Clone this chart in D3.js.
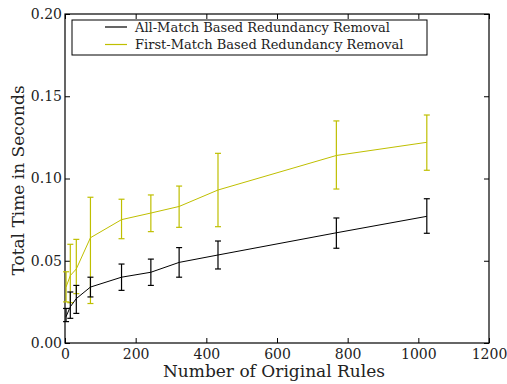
<!DOCTYPE html>
<html>
<head>
    <script src='https://d3js.org/d3.v7.min.js'></script>
    <style>
        html, body { margin: 0; padding: 0; background: white; }
        text { font-family: 'DejaVu Serif', serif; fill: #222; }
    </style>
</head>
<body>
<div id="vis"></div>
<script>

// data
var rules = [3, 15, 32, 72, 160, 243, 323, 433, 768, 1024];

var allMean = [0.016, 0.022, 0.027, 0.034, 0.040, 0.043, 0.049, 0.0535, 0.067, 0.077];
var allLo   = [0.013, 0.015, 0.018, 0.028, 0.032, 0.035, 0.040, 0.045, 0.0576, 0.0667];
var allHi   = [0.021, 0.031, 0.035, 0.040, 0.048, 0.051, 0.058, 0.062, 0.076, 0.0877];

var firstMean = [0.034, 0.041, 0.045, 0.064, 0.075, 0.079, 0.083, 0.093, 0.114, 0.122];
var firstLo   = [0.025, 0.0245, 0.030, 0.024, 0.0634, 0.0677, 0.0703, 0.0707, 0.0936, 0.105];
var firstHi   = [0.0433, 0.060, 0.063, 0.0886, 0.0874, 0.090, 0.0954, 0.1153, 0.135, 0.1386];

var xTicks = [0, 200, 400, 600, 800, 1000, 1200];
var yTicks = [0.00, 0.05, 0.10, 0.15, 0.20];

var seriesNames = ['All-Match Based Redundancy Removal', 'First-Match Based Redundancy Removal'];
var seriesColors = ['#000000', '#bfbf00'];

var width = 507, height = 384;
var margin = {top: 14, bottom: 41, left: 65, right: 18};
var w = width - margin.left - margin.right;
var h = height - margin.top - margin.bottom;

var svg = d3.select('#vis').append('svg')
    .attr('width', width)
    .attr('height', height);
var g = svg.append('g')
    .attr('transform', 'translate(' + margin.left + ',' + margin.top + ')');

var x = d3.scaleLinear().domain([0, 1200]).range([0, w]);
var y = d3.scaleLinear().domain([0, 0.20]).range([h, 0]);

// axes, ticks pointing inward on all four sides
var xAxis = g.append('g').attr('transform', 'translate(0,' + h + ')')
    .call(d3.axisBottom(x).tickValues(xTicks).tickSizeInner(-5).tickSizeOuter(0).tickPadding(6.5).tickFormat(d3.format('d')));
var xTop = g.append('g')
    .call(d3.axisTop(x).tickValues(xTicks).tickSizeInner(-5).tickSizeOuter(0).tickFormat(''));
var yAxis = g.append('g')
    .call(d3.axisLeft(y).tickValues(yTicks).tickSizeInner(-5).tickSizeOuter(0).tickPadding(3).tickFormat(d3.format('.2f')));
var yRight = g.append('g').attr('transform', 'translate(' + w + ',0)')
    .call(d3.axisRight(y).tickValues(yTicks).tickSizeInner(-5).tickSizeOuter(0).tickFormat(''));

[xAxis, xTop, yAxis, yRight].forEach(function(a) {
    a.select('.domain').remove();
    a.selectAll('line').attr('stroke', '#000');
    a.selectAll('text').style('font-family', "'DejaVu Serif', serif").style('font-size', '14px').attr('fill', '#222');
});

g.append('rect')
    .attr('x', 0).attr('y', 0).attr('width', w).attr('height', h)
    .attr('fill', 'none').attr('stroke', '#000').attr('stroke-width', 1.2);

function drawSeries(mean, lo, hi, color) {
    var pts = rules.map(function(r, i) { return {x: r, m: mean[i], lo: lo[i], hi: hi[i]}; });
    var line = d3.line().x(function(d) { return x(d.x); }).y(function(d) { return y(d.m); });
    g.append('path').datum(pts)
        .attr('d', line)
        .attr('fill', 'none')
        .attr('stroke', color)
        .attr('stroke-width', 1);
    var bars = g.append('g').selectAll('g').data(pts).enter().append('g');
    bars.append('line')
        .attr('x1', function(d) { return x(d.x); }).attr('x2', function(d) { return x(d.x); })
        .attr('y1', function(d) { return y(d.lo); }).attr('y2', function(d) { return y(d.hi); })
        .attr('stroke', color).attr('stroke-width', 1.2);
    ['lo', 'hi'].forEach(function(k) {
        bars.append('line')
            .attr('x1', function(d) { return x(d.x) - 3; }).attr('x2', function(d) { return x(d.x) + 3; })
            .attr('y1', function(d) { return y(d[k]); }).attr('y2', function(d) { return y(d[k]); })
            .attr('stroke', color).attr('stroke-width', 1.2);
    });
}

drawSeries(firstMean, firstLo, firstHi, seriesColors[1]);
drawSeries(allMean, allLo, allHi, seriesColors[0]);

// legend
var legend = svg.append('g').attr('transform', 'translate(72,20)');
legend.append('rect')
    .attr('width', 355).attr('height', 35)
    .attr('fill', 'white').attr('stroke', '#000').attr('stroke-width', 1);
seriesNames.forEach(function(name, i) {
    var yy = 7 + i * 17.5;
    legend.append('line')
        .attr('x1', 33).attr('x2', 55).attr('y1', yy).attr('y2', yy)
        .attr('stroke', seriesColors[i]).attr('stroke-width', 1.2);
    legend.append('text')
        .attr('x', 63).attr('y', yy + 4.5)
        .style('font-size', '13px')
        .text(name);
});

// axis titles
svg.append('text')
    .attr('x', 274).attr('y', 377)
    .attr('text-anchor', 'middle')
    .style('font-size', '17px')
    .text('Number of Original Rules');
svg.append('text')
    .attr('transform', 'translate(23.5,' + 180.5 + ') rotate(-90)')
    .attr('text-anchor', 'middle')
    .style('font-size', '17px')
    .text('Total Time in Seconds');

</script>
</body>
</html>
